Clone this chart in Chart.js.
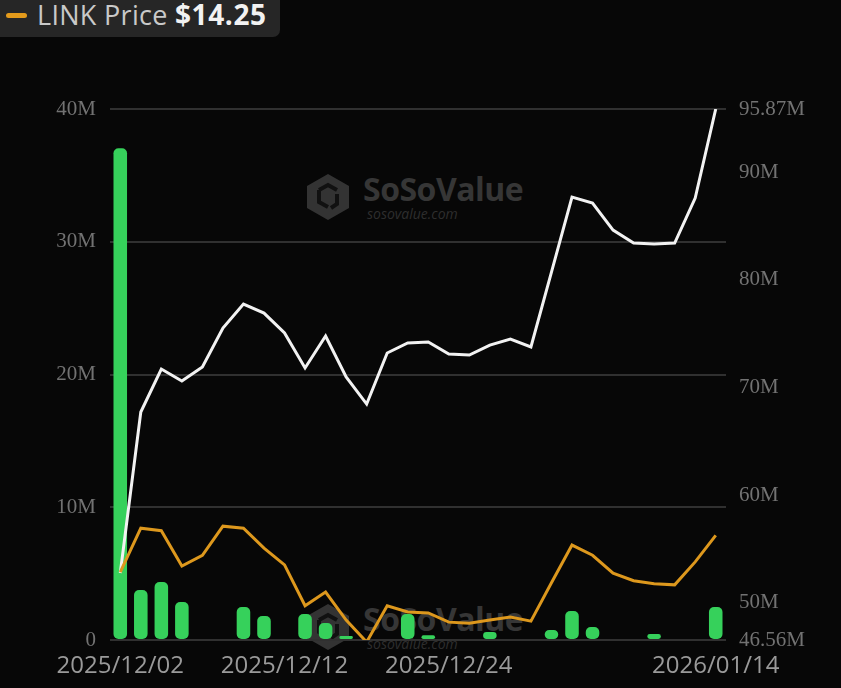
<!DOCTYPE html>
<html>
<head>
<meta charset="utf-8">
<title>LINK ETF flows</title>
<script src="https://cdn.jsdelivr.net/npm/chart.js@4.4.1/dist/chart.umd.min.js"></script>
<style>
  html, body { margin: 0; padding: 0; background: #070707; }
  #wrap { position: relative; width: 841px; height: 688px; overflow: hidden; background: #070707; }
  #flowChart { position: absolute; left: 0; top: 0; }
  .badge {
    position: absolute; left: 0; top: 0; width: 280px; height: 37px;
    background: #262626; border-radius: 0 0 7px 0;
    font-family: "Open Sans", sans-serif; white-space: nowrap;
  }
  .badge .dash { position: absolute; left: 6px; top: 13px; width: 21px; height: 5px; border-radius: 3px; background: #e39a1b; }
  .badge .lbl { position: absolute; left: 37px; top: -4px; font-size: 27px; color: #c9c9c9; letter-spacing: 0.3px; }
  .badge .val { position: absolute; left: 175px; top: -5px; font-size: 28px; font-weight: 700; color: #f2f2f2; letter-spacing: 0.6px; }
  .wm { position: absolute; width: 230px; height: 56px; }
  .wm svg { position: absolute; left: 0; top: 0; }
  .wm .name { position: absolute; left: 58px; top: -5px; font-family: "Open Sans", sans-serif; font-weight: 700; font-size: 32px; color: #363636; letter-spacing: -0.5px; }
  .wm .url { position: absolute; left: 62px; top: 32px; font-family: "Open Sans", sans-serif; font-style: italic; font-size: 14px; color: #2e2e2e; }
</style>
</head>
<body>
<div id="wrap">
  <div class="wm" style="left:305px; top:172px">
    <svg width="46" height="50" viewBox="0 0 46 50"><polygon points="23,2 44,14 44,36 23,48 2,36 2,14" fill="#333"/><path d="M14 18 L23 13 L32 18 M14 18 L14 30 L23 35 M32 22 L32 32 L26 36" stroke="#111" stroke-width="4" fill="none"/></svg>
    <span class="name">SoSoValue</span><span class="url">sosovalue.com</span>
  </div>
  <div class="wm" style="left:305px; top:602px">
    <svg width="46" height="50" viewBox="0 0 46 50"><polygon points="23,2 44,14 44,36 23,48 2,36 2,14" fill="#333"/><path d="M14 18 L23 13 L32 18 M14 18 L14 30 L23 35 M32 22 L32 32 L26 36" stroke="#111" stroke-width="4" fill="none"/></svg>
    <span class="name">SoSoValue</span><span class="url">sosovalue.com</span>
  </div>
  <canvas id="flowChart" width="841" height="688"></canvas>
  <div class="badge"><span class="dash"></span><span class="lbl">LINK Price</span><span class="val">$14.25</span></div>
</div>

<script>
// trading days shown on the x axis
const dates = [
  "2025/12/02", "2025/12/03", "2025/12/04", "2025/12/05", "2025/12/08",
  "2025/12/09", "2025/12/10", "2025/12/11", "2025/12/12", "2025/12/15",
  "2025/12/16", "2025/12/17", "2025/12/18", "2025/12/19", "2025/12/22",
  "2025/12/23", "2025/12/24", "2025/12/26", "2025/12/29", "2025/12/30",
  "2025/12/31", "2026/01/02", "2026/01/05", "2026/01/06", "2026/01/07",
  "2026/01/08", "2026/01/09", "2026/01/12", "2026/01/13", "2026/01/14"
];
const shownDates = ["2025/12/02", "2025/12/12", "2025/12/24", "2026/01/14"];

// daily net inflow (M USD), left axis
const netInflow = [
  37.05, 3.77, 4.37, 2.86, 0, 0, 2.48, 1.81, 0, 1.96,
  1.28, 0.3, 0, 0, 1.96, 0.35, 0, 0, 0.6, 0,
  0, 0.75, 2.18, 0.98, 0, 0, 0.45, 0, 0, 2.48
];

// total net assets (M USD), right axis
const totalAssets = [
  52.78, 67.73, 71.72, 70.61, 71.91, 75.53, 77.76, 76.92, 75.07, 71.82,
  74.79, 70.98, 68.47, 73.21, 74.14, 74.23, 73.12, 73.02, 73.95, 74.51,
  73.77, 80.73, 87.69, 87.14, 84.63, 83.42, 83.33, 83.42, 87.60, 95.87
];

// LINK price (USD), hidden axis
const linkPrice = [
  13.53, 14.39, 14.34, 13.65, 13.86, 14.43, 14.39, 14.00, 13.67, 12.87,
  13.14, 12.59, 12.16, 12.87, 12.75, 12.73, 12.55, 12.53, 12.59, 12.65,
  12.57, 13.32, 14.06, 13.86, 13.51, 13.36, 13.30, 13.28, 13.73, 14.25
];

const leftTicks = [0, 10, 20, 30, 40];
const rightTicks = [46.56, 50, 60, 70, 80, 90, 95.87];

const serifTick = { family: "'Liberation Serif', serif", size: 21 };

new Chart(document.getElementById("flowChart"), {
  type: "bar",
  data: {
    labels: dates,
    datasets: [
      {
        type: "line",
        label: "LINK Price",
        data: linkPrice,
        yAxisID: "yPrice",
        borderColor: "#dd981d",
        borderWidth: 3,
        pointRadius: 0,
        tension: 0,
        order: 1
      },
      {
        type: "line",
        label: "Total Net Assets",
        data: totalAssets,
        yAxisID: "yRight",
        borderColor: "#f2f2f2",
        borderWidth: 3,
        pointRadius: 0,
        tension: 0,
        order: 2
      },
      {
        type: "bar",
        label: "Daily Net Inflow",
        data: netInflow,
        yAxisID: "yLeft",
        backgroundColor: "#36d15b",
        borderRadius: 5,
        borderSkipped: false,
        barPercentage: 0.66,
        categoryPercentage: 1,
        order: 3
      }
    ]
  },
  options: {
    responsive: false,
    animation: false,
    devicePixelRatio: 1,
    layout: { padding: { top: 109, left: 0, right: 0, bottom: 0 } },
    plugins: {
      legend: { display: false },
      tooltip: { enabled: false }
    },
    scales: {
      x: {
        offset: true,
        grid: { display: false, drawTicks: false },
        border: { display: false },
        afterFit: s => { s.height = 48; },
        ticks: {
          autoSkip: false,
          maxRotation: 0,
          padding: 12,
          color: "#9a9a9a",
          font: { family: "'Open Sans', sans-serif", size: 24 },
          callback: function (v, i) {
            const d = dates[i];
            return shownDates.includes(d) ? d : "";
          }
        }
      },
      yLeft: {
        position: "left",
        min: 0,
        max: 40,
        afterFit: s => { s.width = 110; },
        afterBuildTicks: s => { s.ticks = leftTicks.map(v => ({ value: v })); },
        grid: { color: "#303030", lineWidth: 2, drawTicks: false },
        border: { display: false },
        ticks: {
          padding: 14,
          color: "#727272",
          font: serifTick,
          callback: v => (v === 0 ? "0" : v + "M")
        }
      },
      yRight: {
        position: "right",
        min: 46.56,
        max: 95.87,
        afterFit: s => { s.width = 115; },
        afterBuildTicks: s => { s.ticks = rightTicks.map(v => ({ value: v })); },
        grid: { display: false, drawTicks: false },
        border: { display: false },
        ticks: {
          padding: 13,
          color: "#727272",
          font: serifTick,
          callback: v => v + "M"
        }
      },
      yPrice: {
        display: false,
        min: 12.2,
        max: 22.6
      }
    }
  }
});
</script>
</body>
</html>
